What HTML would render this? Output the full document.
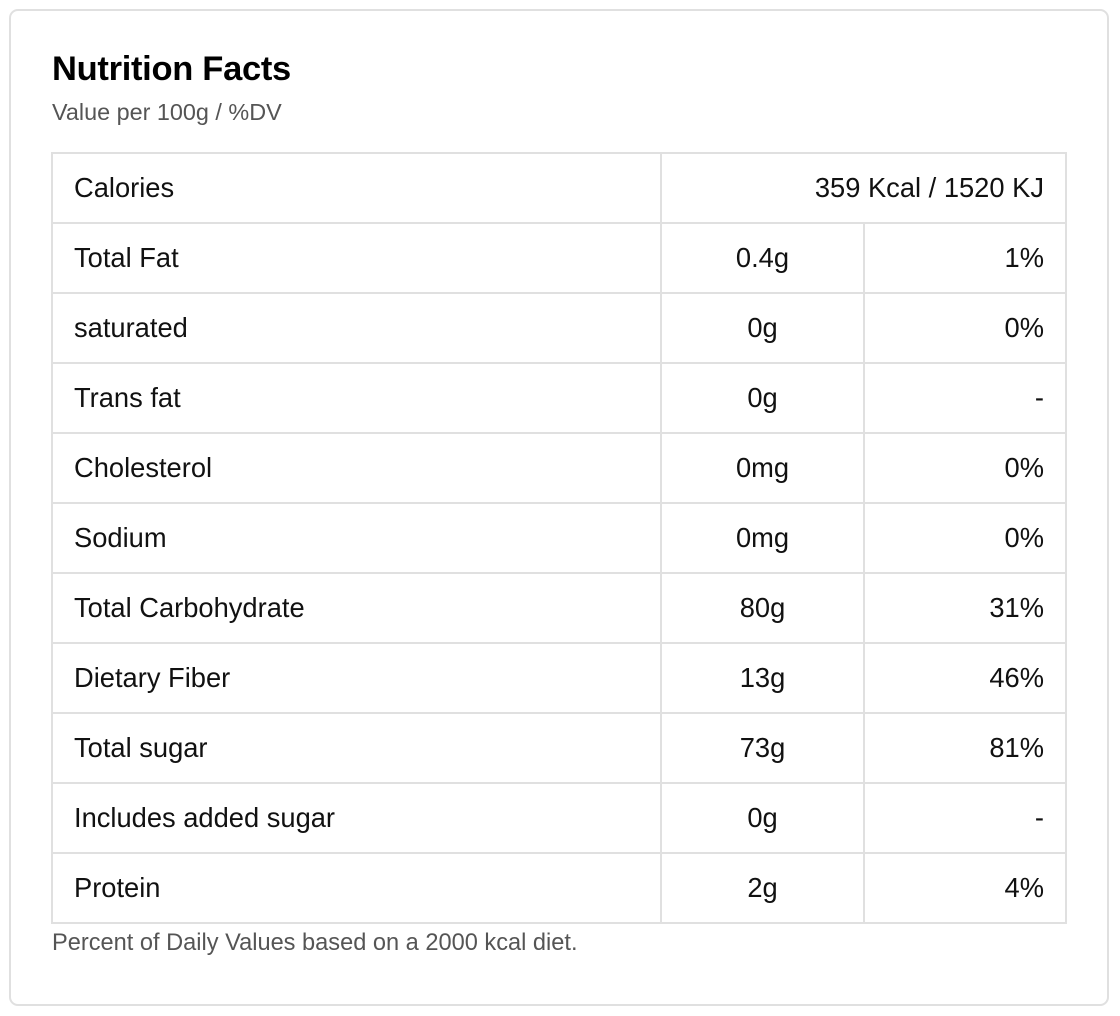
<!DOCTYPE html>
<html><head><meta charset="utf-8"><style>
*{margin:0;padding:0;box-sizing:border-box}
body{width:1120px;height:1016px;background:#fff;font-family:"Liberation Sans",Arial,sans-serif;position:relative;overflow:hidden}
.card{position:absolute;left:9px;top:9px;width:1100px;height:997px;border:2px solid #e0e0e0;border-radius:9px}
.t{position:absolute;left:52px;top:50px;font-size:34.5px;font-weight:bold;color:#000;letter-spacing:-0.3px}
.s{position:absolute;left:52px;top:99px;font-size:23.4px;color:#555}
.f{position:absolute;left:52px;top:930px;font-size:23.6px;color:#555}
table{position:absolute;left:51px;top:152px;width:1016px;border-collapse:collapse}
td{height:70px;border:2px solid #e0e0e0;font-size:27.3px;color:#111;padding:0 21px}
td.a{width:609px}
td.b{width:203px;text-align:center}
td.c{text-align:right}
</style></head><body>
<div class="card"></div>
<div class="t">Nutrition Facts</div>
<div class="s">Value per 100g / %DV</div>
<table>
<tr><td class="a">Calories</td><td colspan="2" class="c">359 Kcal / 1520 KJ</td></tr>
<tr><td class="a">Total Fat</td><td class="b">0.4g</td><td class="c">1%</td></tr>
<tr><td class="a">saturated</td><td class="b">0g</td><td class="c">0%</td></tr>
<tr><td class="a">Trans fat</td><td class="b">0g</td><td class="c">-</td></tr>
<tr><td class="a">Cholesterol</td><td class="b">0mg</td><td class="c">0%</td></tr>
<tr><td class="a">Sodium</td><td class="b">0mg</td><td class="c">0%</td></tr>
<tr><td class="a">Total Carbohydrate</td><td class="b">80g</td><td class="c">31%</td></tr>
<tr><td class="a">Dietary Fiber</td><td class="b">13g</td><td class="c">46%</td></tr>
<tr><td class="a">Total sugar</td><td class="b">73g</td><td class="c">81%</td></tr>
<tr><td class="a">Includes added sugar</td><td class="b">0g</td><td class="c">-</td></tr>
<tr><td class="a">Protein</td><td class="b">2g</td><td class="c">4%</td></tr>
</table>
<div class="f">Percent of Daily Values based on a 2000 kcal diet.</div>
</body></html>
